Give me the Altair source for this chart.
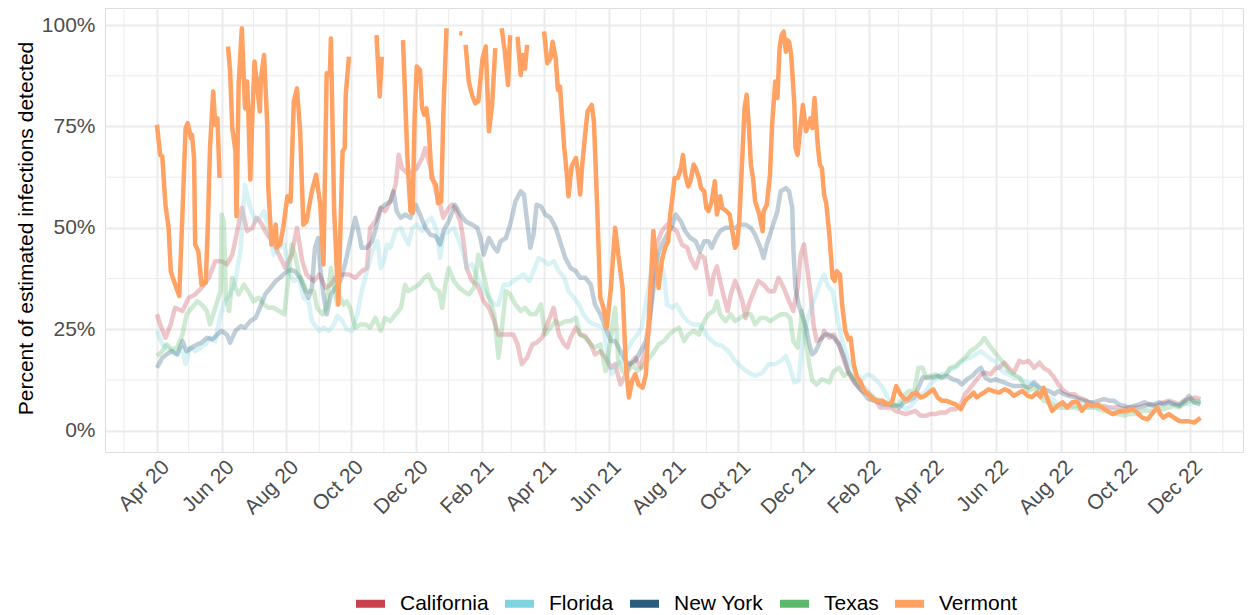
import altair as alt
import pandas as pd

START = pd.Timestamp("2020-04-01")
STATES = ["California", "Florida", "New York", "Texas", "Vermont"]
COLORS = ["#C8424E", "#7FD4DF", "#2B5E7E", "#5CB86A", "#FFA263"]

# (days since 1 Apr 2020, percent of estimated infections detected)
CALIFORNIA = [(0, 28.7), (3, 26.2), (8, 22.9), (13, 26.2), (17, 30.3), (24, 29.5), (30, 32.8), (36, 33.6),
              (42, 35.2), (49, 37.7), (55, 41.8), (61, 41.8), (66, 41.0), (71, 43.4), (75, 48.3), (80, 54.9),
              (85, 49.2), (90, 50.0), (94, 52.5), (99, 50.8), (104, 48.3), (109, 46.7), (115, 43.4), (121, 40.1),
              (127, 43.4), (132, 50.0), (137, 41.8), (141, 38.5), (148, 36.9), (153, 38.5), (159, 35.2), (164, 36.0),
              (168, 37.7), (175, 38.5), (181, 38.5), (187, 37.7), (193, 39.3), (198, 40.1), (201, 50.0), (206, 51.6),
              (211, 54.9), (215, 54.1), (220, 56.5), (225, 60.6), (228, 68.0), (231, 64.7), (236, 63.5), (241, 63.9),
              (245, 64.7), (250, 67.2), (253, 69.7), (258, 64.7), (263, 59.0), (267, 55.7), (270, 52.5), (275, 54.9),
              (278, 55.7), (281, 54.9), (286, 51.6), (289, 46.7), (292, 40.1), (297, 36.9), (302, 36.0), (308, 31.9),
              (313, 30.3), (318, 27.0), (322, 23.7), (327, 23.7), (332, 23.7), (336, 23.7), (340, 21.3), (344, 16.4),
              (349, 18.0), (354, 21.3), (358, 21.7), (363, 22.9), (368, 26.2), (374, 30.3), (379, 23.7), (384, 21.3),
              (387, 20.5), (390, 22.9), (395, 25.4), (399, 23.7), (404, 23.3), (409, 21.3), (413, 18.8), (418, 19.6),
              (423, 18.0), (428, 15.5), (432, 16.4), (437, 11.4), (442, 13.9), (446, 16.4), (451, 18.0), (456, 15.5),
              (461, 20.5), (464, 24.6), (470, 45.1), (476, 49.2), (481, 50.8), (486, 50.0), (490, 49.2), (495, 45.9),
              (500, 45.1), (503, 42.6), (508, 40.1), (512, 43.4), (516, 42.6), (520, 36.9), (522, 33.6), (525, 38.5),
              (528, 40.5), (531, 36.9), (534, 33.6), (538, 29.5), (541, 33.6), (545, 36.9), (549, 34.4), (552, 31.9),
              (555, 27.8), (558, 31.1), (563, 34.4), (567, 36.9), (572, 36.0), (577, 34.4), (582, 34.4), (586, 37.7),
              (591, 35.2), (596, 31.9), (600, 29.5), (604, 35.2), (607, 43.4), (610, 45.9), (613, 40.1), (616, 34.4),
              (619, 26.2), (622, 22.1), (627, 22.9), (629, 24.6), (634, 22.9), (638, 23.7), (643, 21.3), (648, 17.2),
              (652, 14.3), (659, 11.4), (665, 9.8), (671, 9.0), (678, 7.4), (682, 5.7), (687, 5.7), (692, 5.7),
              (696, 4.9), (701, 4.5), (706, 4.1), (711, 4.5), (715, 4.9), (720, 3.7), (725, 3.7), (729, 4.1),
              (734, 4.1), (739, 4.5), (744, 4.5), (748, 5.3), (753, 5.3), (758, 6.5), (762, 9.0), (767, 10.6),
              (772, 12.3), (777, 13.9), (781, 14.3), (786, 13.9), (791, 15.5), (794, 15.5), (799, 16.8), (803, 15.5),
              (808, 14.3), (813, 17.2), (817, 16.8), (822, 17.2), (827, 15.5), (832, 16.8), (836, 15.5), (841, 14.7),
              (846, 13.1), (850, 11.4), (855, 9.8), (860, 9.0), (865, 9.0), (869, 8.2), (874, 7.8), (879, 7.0),
              (883, 6.5), (888, 6.1), (893, 6.1), (898, 5.7), (902, 5.7), (907, 5.7), (912, 5.3), (916, 5.7),
              (921, 5.7), (926, 5.7), (931, 6.1), (935, 6.5), (940, 6.1), (945, 6.5), (949, 7.0), (954, 7.4),
              (959, 7.0), (964, 6.5), (968, 7.4), (973, 7.8), (979, 8.2), (984, 7.8)]

FLORIDA = [(0, 24.6), (5, 21.3), (9, 20.5), (14, 19.6), (19, 18.8), (24, 20.5), (27, 16.4), (31, 20.5), (36, 19.6),
           (41, 20.5), (46, 21.3), (50, 22.9), (55, 22.1), (60, 28.7), (64, 31.9), (69, 33.6), (74, 36.9), (79, 45.1),
           (83, 60.6), (88, 54.9), (93, 51.6), (97, 52.5), (101, 54.1), (105, 50.0), (110, 43.4), (115, 45.1),
           (120, 45.9), (124, 39.3), (129, 36.9), (134, 37.7), (138, 32.8), (143, 31.9), (146, 27.0), (153, 24.6),
           (157, 25.4), (162, 24.6), (167, 26.2), (170, 28.3), (175, 27.0), (179, 25.0), (184, 24.6), (189, 28.7),
           (193, 34.4), (198, 39.3), (203, 44.2), (208, 46.7), (211, 40.1), (214, 41.8), (217, 45.9), (220, 45.1),
           (225, 49.2), (230, 50.0), (234, 47.5), (237, 45.9), (241, 50.0), (245, 50.8), (250, 49.2), (255, 51.6),
           (259, 52.5), (264, 49.2), (267, 42.6), (270, 48.3), (275, 49.2), (280, 50.0), (285, 46.7), (289, 43.4),
           (292, 40.1), (297, 41.0), (302, 37.7), (307, 35.2), (313, 32.8), (318, 31.1), (322, 31.1), (327, 36.0),
           (332, 36.0), (336, 36.9), (341, 37.7), (346, 38.5), (351, 36.9), (355, 39.3), (360, 42.6), (365, 41.8),
           (369, 41.0), (374, 41.8), (379, 39.3), (384, 37.7), (388, 34.4), (393, 32.8), (398, 31.1), (402, 28.7),
           (407, 27.0), (412, 26.2), (417, 25.8), (421, 25.4), (426, 16.4), (429, 13.9), (434, 16.4), (439, 17.2),
           (443, 19.6), (448, 22.1), (453, 23.7), (457, 25.4), (468, 41.8), (473, 43.4), (478, 38.5), (481, 31.1),
           (486, 30.3), (490, 31.1), (495, 28.7), (500, 27.0), (505, 26.2), (511, 26.2), (516, 24.6), (520, 22.9),
           (527, 21.3), (533, 20.9), (539, 19.6), (545, 17.2), (552, 15.5), (558, 14.3), (564, 13.5), (571, 14.3),
           (577, 16.4), (583, 16.4), (588, 17.2), (593, 18.4), (597, 15.5), (601, 11.9), (605, 12.3), (608, 20.5),
           (613, 27.0), (619, 31.9), (626, 36.9), (629, 38.5), (632, 36.0), (634, 35.2), (637, 34.4), (641, 28.7),
           (646, 22.1), (651, 18.0), (656, 15.5), (660, 13.9), (665, 12.7), (670, 13.9), (674, 13.5), (679, 12.3),
           (684, 10.6), (689, 8.2), (692, 6.1), (696, 6.1), (701, 6.5), (706, 5.3), (711, 6.1), (715, 7.4),
           (720, 8.6), (725, 9.8), (729, 11.4), (734, 12.7), (739, 13.9), (744, 13.9), (748, 15.1), (753, 15.5),
           (758, 16.8), (762, 17.6), (767, 18.0), (772, 18.8), (777, 19.6), (781, 18.8), (786, 17.6), (791, 17.2),
           (794, 15.5), (799, 14.3), (803, 13.9), (808, 13.1), (813, 13.1), (817, 12.3), (822, 11.9), (827, 11.4),
           (832, 10.6), (836, 9.0), (841, 8.2), (846, 7.4), (850, 6.5), (855, 6.5), (860, 6.1), (865, 6.1),
           (869, 6.5), (874, 6.1), (879, 5.7), (883, 6.1), (888, 5.7), (893, 5.7), (898, 5.3), (902, 4.9),
           (907, 4.9), (912, 4.5), (916, 4.9), (921, 4.9), (926, 5.7), (931, 5.7), (935, 6.1), (940, 6.1),
           (945, 6.1), (949, 6.5), (954, 7.0), (959, 6.5), (964, 6.5), (968, 7.0), (973, 6.5), (979, 7.0), (984, 7.4)]

NEW_YORK = [(0, 15.5), (5, 18.0), (9, 18.8), (14, 19.6), (19, 18.8), (24, 22.1), (28, 19.6), (33, 20.5), (38, 21.3),
            (42, 21.7), (47, 22.9), (52, 22.5), (57, 23.7), (61, 24.6), (66, 23.7), (69, 21.7), (74, 24.6), (79, 25.8),
            (83, 25.4), (88, 27.0), (93, 27.8), (97, 30.3), (102, 33.6), (107, 35.2), (112, 36.9), (116, 37.7),
            (121, 38.9), (126, 39.7), (130, 39.3), (135, 37.7), (140, 34.4), (143, 32.8), (146, 35.2), (149, 45.1),
            (152, 47.5), (154, 40.1), (157, 33.6), (160, 28.7), (164, 33.6), (168, 35.2), (173, 36.9), (178, 41.8),
            (182, 46.7), (187, 52.5), (190, 49.2), (193, 45.1), (198, 45.1), (203, 46.7), (208, 51.6), (211, 54.9),
            (215, 55.7), (220, 56.5), (223, 59.0), (226, 54.1), (230, 52.5), (234, 53.3), (239, 52.5), (244, 55.7),
            (248, 53.3), (253, 50.0), (258, 48.3), (263, 47.9), (267, 45.9), (270, 49.2), (275, 51.6), (281, 55.7),
            (286, 53.3), (291, 51.6), (297, 50.8), (302, 50.0), (305, 47.5), (308, 43.4), (313, 47.5), (318, 45.1),
            (321, 44.2), (324, 46.7), (329, 47.5), (333, 50.8), (338, 56.5), (343, 59.0), (346, 58.2), (349, 51.6),
            (352, 45.1), (355, 48.3), (358, 55.7), (362, 55.3), (366, 53.3), (371, 52.5), (376, 50.0), (380, 46.7),
            (385, 42.6), (390, 40.1), (395, 39.3), (399, 37.7), (404, 37.7), (409, 36.0), (413, 31.1), (418, 28.7),
            (423, 25.4), (428, 22.1), (432, 22.1), (437, 19.6), (442, 17.2), (446, 16.4), (451, 17.2), (456, 19.6),
            (461, 22.1), (465, 28.7), (470, 38.5), (472, 43.4), (476, 45.9), (481, 48.3), (486, 50.8), (489, 53.3),
            (494, 51.6), (498, 49.2), (503, 47.5), (508, 46.7), (512, 44.2), (516, 46.7), (520, 46.7), (523, 45.1),
            (527, 47.5), (531, 49.2), (536, 50.0), (541, 50.0), (545, 50.0), (550, 50.8), (555, 50.8), (560, 50.0),
            (564, 48.3), (569, 45.1), (572, 42.6), (575, 45.9), (580, 50.0), (585, 54.1), (588, 59.0), (593, 59.8),
            (596, 59.0), (599, 54.9), (600, 45.1), (602, 35.2), (605, 31.1), (608, 28.7), (612, 25.4), (615, 21.3),
            (618, 18.8), (621, 19.6), (624, 21.3), (627, 22.9), (630, 23.7), (634, 23.7), (638, 22.9), (643, 21.3),
            (648, 18.0), (652, 14.7), (657, 12.3), (662, 10.6), (667, 9.0), (671, 7.8), (676, 7.4), (681, 7.0),
            (685, 6.5), (690, 6.5), (695, 6.5), (700, 5.7), (704, 7.0), (709, 7.4), (714, 8.2), (718, 10.6),
            (722, 13.1), (726, 13.1), (731, 13.1), (736, 13.5), (740, 13.1), (745, 13.5), (750, 12.7), (755, 12.3),
            (759, 11.4), (764, 12.7), (769, 13.5), (773, 14.7), (777, 15.5), (781, 13.1), (786, 12.3), (791, 12.7),
            (794, 12.3), (799, 11.9), (803, 11.4), (808, 11.0), (813, 11.0), (817, 11.0), (822, 10.6), (827, 11.9),
            (832, 10.6), (836, 10.2), (841, 9.8), (846, 9.0), (850, 9.8), (855, 9.0), (860, 8.6), (865, 8.2),
            (869, 7.8), (874, 7.4), (879, 7.0), (883, 7.0), (888, 7.4), (893, 7.8), (898, 7.4), (902, 7.4),
            (907, 6.5), (912, 6.1), (916, 5.7), (921, 6.1), (926, 6.5), (931, 7.0), (935, 6.5), (940, 6.5),
            (945, 7.0), (949, 6.5), (954, 7.0), (959, 6.5), (964, 6.1), (968, 7.0), (973, 8.6), (978, 7.0), (984, 6.5)]

TEXAS = [(0, 18.4), (5, 19.6), (9, 21.3), (14, 20.1), (19, 20.5), (24, 23.7), (28, 28.7), (33, 30.3), (38, 31.9),
         (42, 31.1), (47, 29.5), (50, 26.2), (55, 30.3), (60, 34.4), (61, 53.3), (63, 51.6), (65, 32.8), (68, 29.5),
         (71, 37.7), (74, 35.2), (77, 33.6), (82, 36.0), (86, 34.4), (91, 31.9), (96, 32.8), (101, 31.1), (105, 30.3),
         (110, 30.3), (115, 29.5), (120, 28.7), (124, 37.7), (127, 45.9), (130, 43.4), (134, 38.5), (137, 36.9),
         (141, 34.4), (148, 34.4), (151, 30.3), (156, 28.7), (160, 30.3), (164, 40.1), (167, 35.2), (170, 31.1),
         (173, 32.8), (176, 31.1), (179, 31.9), (182, 30.3), (187, 25.4), (192, 26.2), (197, 26.2), (201, 25.4),
         (206, 27.8), (211, 24.6), (215, 27.8), (220, 27.0), (225, 28.7), (230, 30.3), (234, 36.0), (237, 34.4),
         (242, 35.2), (247, 36.0), (252, 37.7), (256, 38.5), (261, 35.2), (266, 34.4), (269, 30.3), (272, 36.0),
         (275, 40.1), (280, 36.9), (285, 35.2), (289, 34.4), (294, 33.6), (299, 35.2), (303, 43.4), (308, 38.5),
         (313, 32.8), (318, 28.7), (322, 18.0), (325, 24.6), (329, 34.4), (333, 33.6), (338, 31.1), (343, 29.5),
         (347, 30.3), (352, 28.7), (357, 28.7), (362, 31.1), (366, 23.7), (371, 25.4), (376, 27.0), (380, 26.2),
         (385, 27.0), (390, 27.0), (395, 27.8), (399, 23.7), (404, 22.9), (409, 21.3), (413, 20.5), (418, 21.3),
         (423, 14.7), (428, 22.9), (432, 30.3), (435, 17.2), (439, 14.7), (443, 13.9), (448, 16.4), (453, 14.7),
         (457, 15.5), (462, 17.2), (467, 18.8), (473, 21.3), (478, 22.1), (483, 23.7), (487, 24.6), (492, 25.4),
         (497, 22.1), (501, 23.7), (506, 24.6), (511, 23.7), (516, 27.0), (520, 28.7), (525, 29.5), (528, 31.9),
         (531, 28.7), (536, 27.0), (541, 28.7), (545, 27.0), (550, 27.8), (555, 28.7), (560, 28.7), (564, 26.2),
         (569, 27.8), (574, 27.8), (578, 27.0), (583, 27.8), (588, 28.7), (593, 28.7), (597, 27.8), (600, 22.1),
         (604, 20.5), (607, 26.2), (608, 29.5), (611, 23.7), (615, 16.4), (618, 12.3), (622, 11.4), (627, 12.7),
         (634, 11.9), (638, 14.7), (643, 15.5), (648, 13.5), (652, 14.3), (657, 13.1), (662, 11.4), (667, 10.6),
         (671, 9.4), (676, 8.2), (681, 7.4), (685, 7.0), (690, 6.5), (695, 6.1), (700, 6.5), (704, 8.6),
         (709, 9.8), (714, 9.8), (718, 15.5), (722, 15.5), (725, 13.1), (729, 13.5), (734, 13.9), (739, 13.1),
         (744, 13.9), (748, 15.5), (753, 16.0), (758, 17.2), (762, 18.0), (767, 19.6), (772, 20.5), (777, 21.7),
         (780, 22.9), (784, 21.3), (789, 19.6), (794, 18.0), (799, 16.4), (803, 14.7), (808, 13.9), (813, 13.1),
         (817, 11.4), (822, 9.8), (827, 10.6), (832, 9.0), (836, 7.4), (841, 7.0), (846, 6.1), (850, 5.7),
         (855, 5.7), (860, 5.7), (865, 5.7), (869, 5.3), (874, 5.7), (879, 5.7), (883, 5.7), (888, 5.3),
         (893, 4.9), (898, 4.5), (902, 4.1), (907, 4.1), (912, 3.7), (916, 4.1), (921, 4.1), (926, 4.5),
         (931, 4.9), (935, 4.9), (940, 4.9), (945, 5.3), (949, 5.3), (954, 5.7), (959, 6.1), (964, 5.7),
         (968, 6.5), (973, 7.4), (979, 7.4), (984, 7.0)]

# None marks days where the estimate is missing (line breaks)
VERMONT = [(0, 75.4), (3, 68.0), (5, 67.6), (8, 55.7), (11, 50.0), (13, 39.3), (16, 36.9), (21, 33.2), (24, 53.3),
           (27, 74.6), (29, 75.8), (32, 72.1), (33, 73.0), (35, 67.2), (36, 45.9), (39, 44.2), (42, 36.0), (46, 36.5),
           (48, 50.8), (50, 69.7), (53, 83.6), (55, 75.4), (57, 77.0), (59, 62.3), (63, None), (67, 94.7), (69, 88.5),
           (71, 74.6), (74, 68.9), (75, 52.9), (77, 85.2), (80, 99.2), (83, 79.5), (85, 86.1), (86, 79.5), (88, 61.9),
           (90, 77.9), (92, 91.0), (94, 86.1), (97, 78.7), (98, 86.9), (101, 92.6), (104, 75.4), (105, 59.8),
           (108, 45.9), (112, 50.8), (113, 45.1), (116, 45.9), (119, 50.0), (123, 57.8), (126, 56.5), (129, 81.2),
           (132, 84.4), (135, 73.8), (138, 50.8), (141, 51.6), (146, 59.0), (150, 63.1), (154, 55.7), (157, 41.0),
           (160, 88.1), (163, 87.7), (164, 96.7), (167, 54.9), (171, 31.1), (173, 50.0), (175, 68.9), (177, 69.7),
           (178, 82.8), (181, 92.2), (194, None), (207, 97.5), (210, 82.4), (212, 92.2), (222, None), (232, 96.3),
           (236, 68.0), (239, 54.1), (241, 53.7), (243, 77.9), (245, 89.8), (248, 88.9), (250, 79.5), (252, 77.9),
           (254, 79.5), (256, 75.4), (259, 62.3), (263, 60.6), (265, 56.1), (268, 56.5), (270, 77.9), (273, 99.2),
           (279, None), (285, 98.0), (288, 97.9), (289, None), (291, 95.1), (294, 86.1), (297, 82.8), (300, 80.7),
           (303, 81.2), (307, 91.8), (310, 94.7), (313, 73.8), (316, 80.3), (319, 94.3), (322, None), (325, 99.2),
           (328, 93.4), (331, 85.2), (333, 97.5), (336, None), (340, 97.1), (343, 87.7), (345, 92.6), (347, 89.3),
           (349, 95.1), (357, None), (365, 98.4), (368, 90.6), (371, 91.8), (373, 95.9), (376, 91.8), (378, 84.0),
           (380, 84.8), (384, 69.7), (386, 64.7), (388, 57.8), (391, 65.2), (395, 67.2), (397, 63.9), (399, 58.2),
           (401, 65.6), (404, 73.8), (406, 78.7), (410, 80.3), (412, 76.2), (415, 55.7), (418, 32.8), (421, 30.3),
           (424, 25.4), (428, 35.2), (432, 50.0), (435, 43.4), (439, 35.2), (442, 16.4), (445, 8.2), (448, 12.3),
           (451, 13.9), (454, 11.4), (458, 10.6), (461, 13.9), (464, 28.7), (468, 49.2), (470, 43.4), (473, 35.2),
           (476, 41.8), (479, 45.1), (482, 46.7), (484, 53.3), (486, 57.4), (488, 62.3), (491, 62.3), (494, 64.7),
           (496, 68.0), (498, 63.1), (501, 60.2), (503, 61.5), (506, 65.6), (508, 64.7), (511, 62.3), (513, 59.8),
           (516, 59.0), (518, 54.9), (520, 54.1), (523, 56.5), (526, 61.5), (528, 53.3), (531, 57.8), (533, 54.9),
           (537, 54.1), (540, 53.3), (542, 50.0), (545, 45.1), (547, 45.9), (549, 51.6), (552, 68.0), (554, 79.5),
           (556, 82.8), (558, 75.4), (560, 65.6), (562, 62.3), (564, 56.5), (566, 54.9), (568, 53.3), (571, 49.2),
           (572, 54.1), (575, 55.7), (578, 63.1), (580, 75.4), (583, 86.1), (585, 82.0), (587, 94.3), (589, 97.5),
           (591, 98.4), (593, 93.4), (594, 96.3), (596, 95.9), (598, 92.6), (601, 80.3), (602, 69.7), (604, 68.0),
           (607, 75.4), (609, 80.3), (612, 73.8), (614, 75.4), (616, 77.0), (618, 74.6), (620, 82.0), (623, 70.5),
           (625, 65.6), (627, 64.7), (629, 58.2), (631, 56.1), (634, 48.3), (637, 37.7), (639, 36.9), (641, 39.3),
           (644, 38.5), (646, 31.1), (649, 24.6), (652, 22.5), (654, 22.9), (657, 16.4), (660, 13.1), (663, 12.3),
           (667, 9.8), (671, 9.0), (674, 7.8), (679, 7.4), (684, 7.4), (689, 6.5), (693, 7.0), (697, 11.0),
           (701, 9.0), (705, 7.8), (708, 7.8), (712, 9.0), (716, 9.4), (720, 8.2), (724, 8.6), (728, 9.4),
           (732, 10.2), (736, 8.2), (740, 7.4), (744, 7.4), (748, 7.0), (753, 6.5), (758, 5.3), (762, 7.4),
           (767, 8.6), (770, 9.4), (773, 8.2), (777, 9.0), (780, 9.4), (784, 10.2), (788, 9.8), (794, 9.4),
           (799, 10.2), (803, 9.8), (808, 8.6), (813, 9.4), (816, 9.8), (821, 8.6), (825, 8.3), (830, 9.4),
           (833, 8.3), (836, 10.6), (839, 8.2), (844, 4.9), (849, 6.1), (854, 7.0), (858, 5.7), (863, 7.0),
           (868, 7.0), (872, 4.9), (877, 6.5), (882, 6.1), (887, 6.5), (891, 5.7), (896, 4.9), (901, 4.1),
           (905, 4.5), (910, 4.9), (915, 4.9), (920, 5.3), (924, 4.5), (929, 3.2), (934, 2.8), (938, 4.1),
           (943, 5.7), (946, 4.1), (949, 3.2), (954, 4.1), (959, 3.2), (964, 2.4), (968, 2.3), (973, 2.3),
           (978, 2.0), (984, 3.2)]

Y_TICKS = [0, 25, 50, 75, 100]
Y_MINOR = [12.5, 37.5, 62.5, 87.5]
Y_DOMAIN = [-5.25, 104.2]
X_DOMAIN = ["2020-02-12", "2023-01-20"]


def ms(ts):
    return int(pd.Timestamp(ts).timestamp() * 1000)


X_MAJOR = [ms(t) for t in pd.date_range("2020-04-01", "2022-12-01", freq="2MS")]
X_MINOR = [ms(t) for t in pd.date_range("2020-03-01", "2023-01-01", freq="2MS")]


def to_frame(name, pairs):
    return pd.DataFrame({
        "date": [(START + pd.Timedelta(days=d)).strftime("%Y-%m-%d") for d, _ in pairs],
        "value": [v for _, v in pairs],
        "state": name,
    })


faint = pd.concat([to_frame(n, p) for n, p in
                   zip(STATES[:4], [CALIFORNIA, FLORIDA, NEW_YORK, TEXAS])], ignore_index=True)
bold = to_frame("Vermont", VERMONT)

FONT = "Liberation Sans"
GRID = "#EBEBEB"

x_scale = alt.Scale(type="utc", domain=[ms(X_DOMAIN[0]), ms(X_DOMAIN[1])], nice=False)
y_scale = alt.Scale(domain=Y_DOMAIN, nice=False, zero=False)
color_scale = alt.Scale(domain=STATES, range=COLORS)

x_axis = alt.Axis(values=X_MAJOR, format="%b %y", labelAngle=315, labelAlign="right",
                  labelBaseline="top", labelPadding=4, labelOffset=1, labelFlush=False,
                  labelOverlap=False, grid=True, gridColor=GRID, gridWidth=2, ticks=False,
                  domain=False, title=None, labelFont=FONT, labelFontSize=21, labelColor="#4D4D4D")
y_axis = alt.Axis(values=Y_TICKS, labelExpr="datum.value + '%'", grid=True, gridColor=GRID,
                  gridWidth=2, ticks=False, domain=False, labelFont=FONT, labelFontSize=21,
                  labelColor="#4D4D4D", labelPadding=10,
                  title="Percent of estimated infections detected", titleFont=FONT,
                  titleFontSize=21, titleFontWeight="normal", titleColor="black",
                  titleAngle=270, titleX=-73, titleY=220, titleBaseline="alphabetic",
                  titleAlign="center")

legend = alt.Legend(title=None, orient="none", direction="horizontal", legendX=247, legendY=577,
                    symbolType="stroke", symbolSize=841, symbolStrokeWidth=8, symbolOpacity=1,
                    labelFont=FONT, labelFontSize=21, labelColor="black", labelOffset=11,
                    columnPadding=0, padding=0)

minor_h = alt.Chart(pd.DataFrame({"value": Y_MINOR})).mark_rule(
    color=GRID, strokeWidth=1).encode(y=alt.Y("value:Q", scale=y_scale, axis=y_axis))
minor_v = alt.Chart(pd.DataFrame({"date": X_MINOR})).mark_rule(
    color=GRID, strokeWidth=1).encode(x=alt.X("date:T", scale=x_scale, axis=x_axis))

faint_lines = alt.Chart(faint).mark_line(
    strokeWidth=4.5, opacity=0.3, strokeJoin="round", clip=True,
    invalid="break-paths-filter-domains").encode(
    x=alt.X("date:T", scale=x_scale, axis=x_axis),
    y=alt.Y("value:Q", scale=y_scale, axis=y_axis),
    color=alt.Color("state:N", scale=color_scale, legend=legend),
)
vt_line = alt.Chart(bold).mark_line(
    strokeWidth=4.5, opacity=1, strokeJoin="round", clip=True,
    invalid="break-paths-filter-domains").encode(
    x=alt.X("date:T", scale=x_scale, axis=x_axis),
    y=alt.Y("value:Q", scale=y_scale, axis=y_axis),
    color=alt.Color("state:N", scale=color_scale, legend=legend),
)

chart = alt.layer(minor_h, minor_v, faint_lines, vt_line).properties(
    width=1138, height=444,
    padding={"left": 97, "top": 0, "right": 1, "bottom": 170},
    autosize=alt.AutoSizeParams(type="none"),
).configure_view(stroke=None).configure(font=FONT, background="white")

chart.save("out.html", embed_options={"renderer": "svg", "actions": False})
